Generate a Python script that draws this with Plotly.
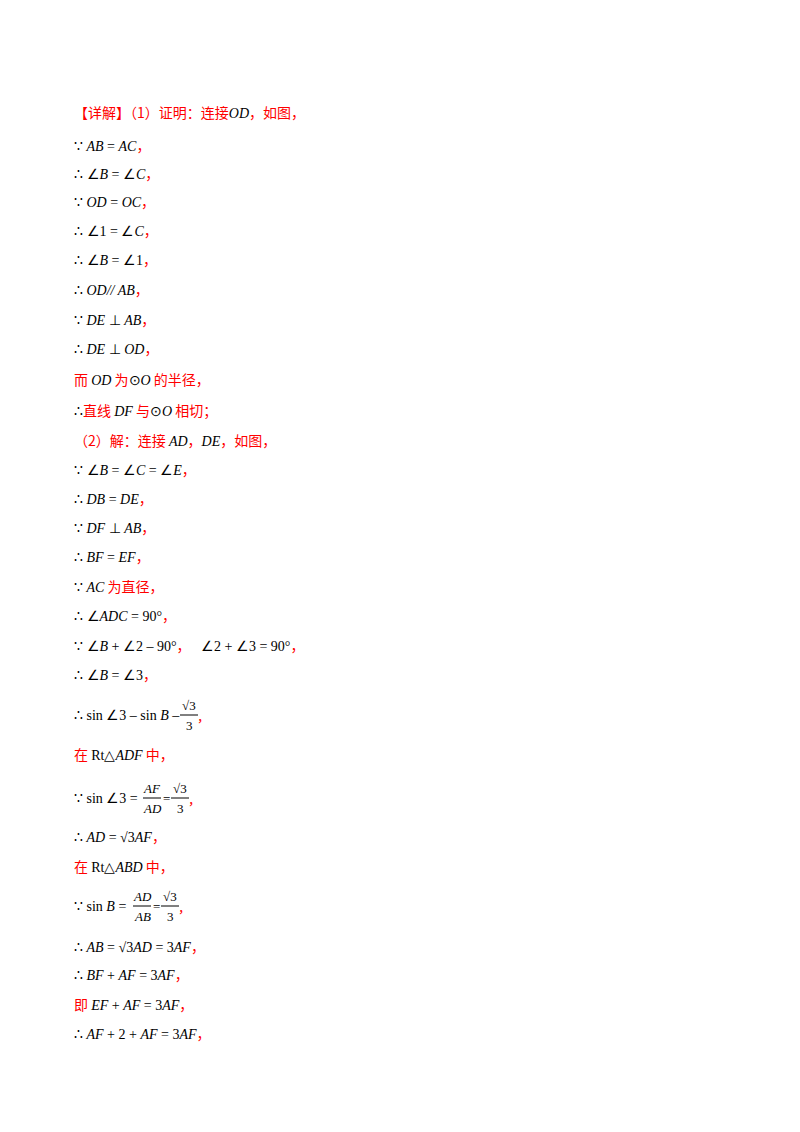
import plotly.graph_objects as go

RED = "#ff0000"
CJK = "Noto Sans CJK SC"
SERIF = "Liberation Serif"

def R(t):
    return f"<span style='color:{RED};font-family:{CJK}'>{t}</span>"
def M(t):
    return f"<span style='font-family:{SERIF}'><i>{t}</i></span>"
def N(t):
    return f"<span style='font-family:{SERIF}'>{t}</span>"

line_y = [104, 137, 165, 193, 222, 251, 281, 311, 340, 371, 402, 432, 461, 490, 519,
          548, 578, 607, 637, 666, 707, 746, 790, 828, 858, 898, 938, 966, 996, 1025]

lines = [
    R("【详解】（1）证明：连接") + M("OD") + R("，如图，"),
    N("∵ ") + M("AB") + N(" = ") + M("AC") + R("，"),
    N("∴ ∠") + M("B") + N(" = ∠") + M("C") + R("，"),
    N("∵ ") + M("OD") + N(" = ") + M("OC") + R("，"),
    N("∴ ∠1 = ∠") + M("C") + R("，"),
    N("∴ ∠") + M("B") + N(" = ∠1") + R("，"),
    N("∴ ") + M("OD// AB") + R("，"),
    N("∵ ") + M("DE") + N(" ⊥ ") + M("AB") + R("，"),
    N("∴ ") + M("DE") + N(" ⊥ ") + M("OD") + R("，"),
    R("而 ") + M("OD") + R(" 为") + N("⊙") + M("O") + R(" 的半径，"),
    N("∴") + R("直线 ") + M("DF") + R(" 与") + N("⊙") + M("O") + R(" 相切；"),
    R("（2）解：连接 ") + M("AD") + R("，") + M("DE") + R("，如图，"),
    N("∵ ∠") + M("B") + N(" = ∠") + M("C") + N(" = ∠") + M("E") + R("，"),
    N("∴ ") + M("DB") + N(" = ") + M("DE") + R("，"),
    N("∵ ") + M("DF") + N(" ⊥ ") + M("AB") + R("，"),
    N("∴ ") + M("BF") + N(" = ") + M("EF") + R("，"),
    N("∵ ") + M("AC") + R(" 为直径，"),
    N("∴ ∠") + M("ADC") + N(" = 90°") + R("，"),
    N("∵ ∠") + M("B") + N(" + ∠2 – 90°") + R("，") + N("   ∠2 + ∠3 = 90°") + R("，"),
    N("∴ ∠") + M("B") + N(" = ∠3") + R("，"),
    N("∴ sin ∠3 – sin ") + M("B") + N(" –"),
    R("在 ") + N("Rt△") + M("ADF") + R(" 中，"),
    N("∵ sin ∠3 ="),
    N("∴ ") + M("AD") + N(" = √3") + M("AF") + R("，"),
    R("在 ") + N("Rt△") + M("ABD") + R(" 中，"),
    N("∵ sin ") + M("B") + N(" ="),
    N("∴ ") + M("AB") + N(" = √3") + M("AD") + N(" = 3") + M("AF") + R("，"),
    N("∴ ") + M("BF") + N(" + ") + M("AF") + N(" = 3") + M("AF") + R("，"),
    R("即 ") + M("EF") + N(" + ") + M("AF") + N(" = 3") + M("AF") + R("，"),
    N("∴ ") + M("AF") + N(" + 2 + ") + M("AF") + N(" = 3") + M("AF") + R("，"),
]

# fractions: (line index, x center, numerator, denominator)
fractions = [
    (20, 181, "√3", "3"),
    (22, 144, M("AF"), M("AD")),
    (22, 172, "√3", "3"),
    (25, 134, M("AD"), M("AB")),
    (25, 162, "√3", "3"),
]
after_frac = [(20, 195, R("，")), (22, 158, N("=")), (22, 186, R("，")),
              (25, 148, N("=")), (25, 176, R("，"))]

fig = go.Figure()
ann = []
for y, t in zip(line_y, lines):
    ann.append(dict(x=64, y=y, text=t, showarrow=False, xanchor="left", yanchor="middle",
                    font=dict(size=14, color="black", family=SERIF)))
shapes = []
for i, xc, num, den in fractions:
    y = line_y[i]
    ann.append(dict(x=xc, y=y - 10, text=N(num), showarrow=False, xanchor="center",
                    yanchor="middle", font=dict(size=13, color="black", family=SERIF)))
    ann.append(dict(x=xc, y=y + 10, text=N(den), showarrow=False, xanchor="center",
                    yanchor="middle", font=dict(size=13, color="black", family=SERIF)))
    shapes.append(dict(type="line", x0=xc - 9, x1=xc + 9, y0=y, y1=y,
                       line=dict(color="black", width=1)))
for i, x, t in after_frac:
    ann.append(dict(x=x, y=line_y[i], text=t, showarrow=False, xanchor="center",
                    yanchor="middle", font=dict(size=13, color="black", family=SERIF)))

fig.update_layout(width=800, height=1132, margin=dict(l=0, r=0, t=0, b=0),
                  paper_bgcolor="white", plot_bgcolor="white",
                  xaxis=dict(range=[0, 800], visible=False),
                  yaxis=dict(range=[1132, 0], visible=False),
                  annotations=ann, shapes=shapes, showlegend=False)
fig.write_html("out.html")
